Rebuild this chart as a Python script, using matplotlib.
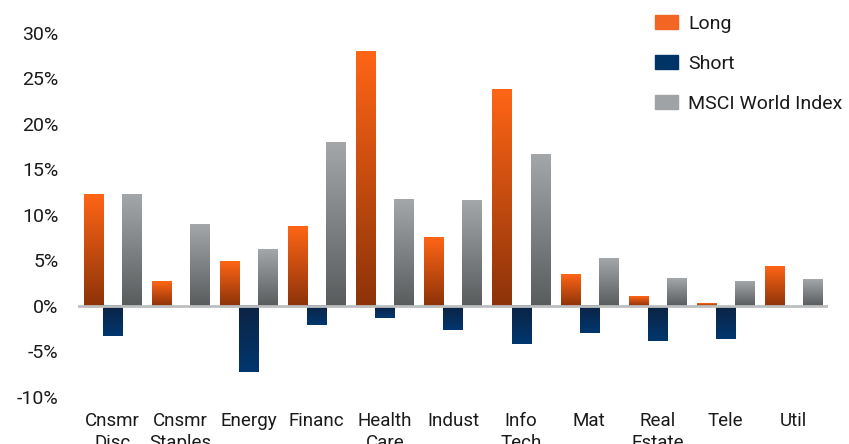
import matplotlib
matplotlib.use('Agg')
import matplotlib.pyplot as plt
import numpy as np
from matplotlib.colors import LinearSegmentedColormap
from matplotlib.patches import Patch
from matplotlib.ticker import FuncFormatter

plt.rcParams['font.family'] = ['Roboto', 'DejaVu Sans']

# data (percent)
sectors = ['Cnsmr\nDisc', 'Cnsmr\nStaples', 'Energy', 'Financ', 'Health\nCare',
           'Indust', 'Info\nTech', 'Mat', 'Real\nEstate', 'Tele', 'Util']
long_vals = [12.2, 2.7, 4.9, 8.7, 28.0, 7.5, 23.8, 3.5, 1.0, 0.3, 4.3]
short_vals = [-3.3, 0.0, -7.3, -2.1, -1.3, -2.6, -4.2, -3.0, -3.8, -3.6, 0.0]
msci_vals = [12.2, 9.0, 6.2, 18.0, 11.7, 11.6, 16.6, 5.2, 3.0, 2.7, 2.9]

# gradient maps, listed bottom -> top
cm_long = LinearSegmentedColormap.from_list('long', ['#8c3309', '#ff6516'])
cm_msci = LinearSegmentedColormap.from_list('msci', ['#585c5d', '#a4a7aa'])
cm_short = LinearSegmentedColormap.from_list('short', ['#00376f', '#0c2343'])

fig = plt.figure(figsize=(8.49, 4.44), dpi=100)
ax = fig.add_axes([0.092, 0.106, 0.883, 0.820])

x = np.arange(len(sectors))
w = 0.28
grad = np.linspace(0, 1, 256).reshape(-1, 1)

def gradient_bars(xpos, vals, cmap):
    bars = ax.bar(xpos, vals, w, color='none', edgecolor='none', zorder=2)
    for b in bars:
        x0, y0 = b.get_x(), b.get_y()
        x1, y1 = x0 + b.get_width(), y0 + b.get_height()
        if b.get_height() == 0:
            continue
        lo, hi = min(y0, y1), max(y0, y1)
        ax.imshow(grad, extent=[x0, x1, lo, hi], origin='lower', aspect='auto',
                  cmap=cmap, zorder=2, interpolation='bilinear')

gradient_bars(x - w, long_vals, cm_long)
gradient_bars(x, short_vals, cm_short)
gradient_bars(x + w, msci_vals, cm_msci)

ax.axhline(0, color='#bcbec0', lw=2, zorder=3)

ax.set_xlim(-0.5, 10.5)
ax.set_ylim(-10, 30)
ax.set_yticks(np.arange(-10, 31, 5))
ax.yaxis.set_major_formatter(FuncFormatter(lambda v, pos: '%d%%' % v))
ax.set_xticks(x)
ax.set_xticklabels(sectors, linespacing=1.3)
ax.tick_params(axis='both', length=0, labelsize=14, colors='#1a1a1a')
ax.tick_params(axis='x', pad=10.5, labelsize=13.5)
ax.tick_params(axis='y', pad=14)
for s in ax.spines.values():
    s.set_visible(False)

handles = [Patch(color='#f26522', label='Long'),
           Patch(color='#003366', label='Short'),
           Patch(color='#a0a3a6', label='MSCI World Index')]
fig.legend(handles=handles, loc='upper left', bbox_to_anchor=(655 / 849, 1 - 15 / 444),
           frameon=False, fontsize=14, handlelength=1.2, handleheight=0.7,
           handletextpad=0.5, labelspacing=1.13, borderpad=0, borderaxespad=0,
           labelcolor='#1a1a1a')

fig.savefig('out.png', dpi=100)
